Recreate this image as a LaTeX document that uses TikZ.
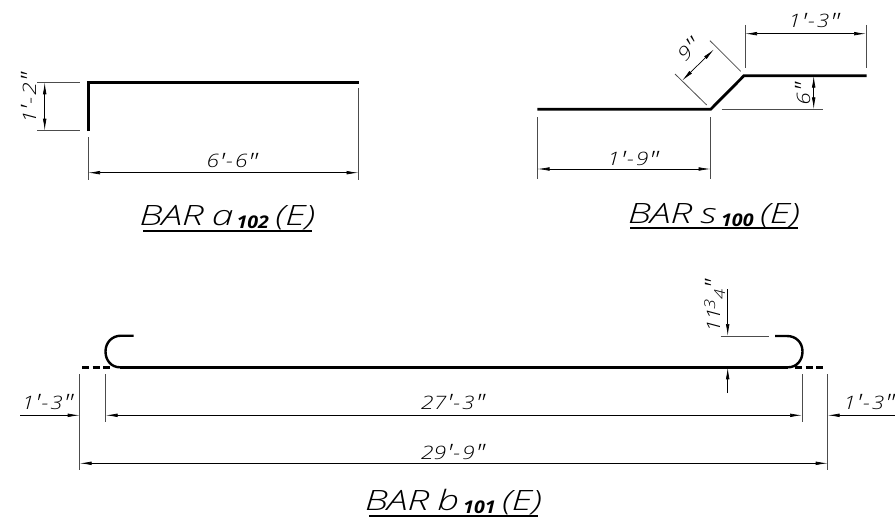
\documentclass[tikz,border=0pt]{standalone}
\usepackage{fontspec}
\setmainfont{Open Sans Light}[ItalicFont={Open Sans Light Italic}]
\newfontfamily\dimf{Open Sans Light Italic}[FakeStretch=1.24]
\newfontfamily\titf{Open Sans Light Italic}[FakeStretch=1.4]
\newfontfamily\subf{Open Sans Bold Italic}[FakeStretch=1.12]
\usetikzlibrary{arrows.meta}
\tikzset{
 x=1pt,y=-1pt,
 bar/.style={line width=2.8pt,line join=miter,line cap=butt},
 hook/.style={line width=2.4pt},
 stub/.style={line width=2.4pt,dash pattern=on 7pt off 3.5pt},
 ext/.style={line width=0.8pt,draw=black!70},
 dimline/.style={line width=0.7pt,draw=black},
 tipa/.style={-{Latex[length=12pt,width=3.6pt]}},
 tipb/.style={{Latex[length=12pt,width=3.6pt]}-{Latex[length=12pt,width=3.6pt]}},
 dimtext/.style={font=\fontsize{18.5}{18.5}\selectfont\dimf,inner sep=0pt},
 title/.style={font=\fontsize{28}{28}\selectfont\titf,inner sep=0pt,anchor=base},
 ul/.style={line width=1.9pt}
}
\newcommand{\prm}{{\fontsize{24}{24}\selectfont\raisebox{-2.5pt}{\char"2032}}}
\newcommand{\dpr}{\prm\kern-1.5pt\prm}
\newcommand{\ft}[2]{#1\prm\kern1pt-\kern2pt#2\dpr}
\newcommand{\inch}[1]{#1\dpr}
\newcommand{\subn}[1]{\raisebox{-3pt}{\fontsize{17.5}{17.5}\selectfont\subf #1}}
\begin{document}
\begin{tikzpicture}
\useasboundingbox (0,0) rectangle (895,519);
% Bar a
\coordinate (a1) at (88.3,131);
\coordinate (a2) at (88.3,82.3);
\coordinate (a3) at (359,82.3);
\draw[bar] (a1) -- (a2) -- (a3);
\coordinate (aL1) at (37,82.3); \coordinate (aL2) at (80,82.3);
\coordinate (aL3) at (37,130.7); \coordinate (aL4) at (80,130.7);
\draw[ext] (aL1) -- (aL2); \draw[ext] (aL3) -- (aL4);
\coordinate (aV1) at (44.7,82.3); \coordinate (aV2) at (44.7,130.7);
\draw[dimline,tipb] (aV1) -- (aV2);
\node[dimtext,rotate=90] (a12) at (30,98) {\ft{1}{2}};
\coordinate (aE1) at (88,137); \coordinate (aE2) at (88,180);
\coordinate (aE3) at (358.5,88); \coordinate (aE4) at (358.5,180);
\draw[ext] (aE1) -- (aE2); \draw[ext] (aE3) -- (aE4);
\coordinate (aH1) at (88,172.7); \coordinate (aH2) at (358.5,172.7);
\draw[dimline,tipb] (aH1) -- (aH2);
\node[dimtext] (a66) at (232,161.5) {\ft{6}{6}};
\node[title] (ta) at (227.5,225) {BAR\kern8pt a\kern3pt\subn{102}\kern6pt(E)};
\coordinate (taL) at (143,231); \coordinate (taR) at (312,231);
\draw[ul] (taL) -- (taR);
% Bar s
\coordinate (s1) at (537.3,109.3);
\coordinate (s2) at (710.7,109.3);
\coordinate (s3) at (744,75.7);
\coordinate (s4) at (866.7,75.7);
\draw[bar] (s1) -- (s2) -- (s3) -- (s4);
\coordinate (sA1) at (537.5,117); \coordinate (sA2) at (537.5,179);
\coordinate (sB1) at (710.5,117); \coordinate (sB2) at (710.5,179);
\draw[ext] (sA1) -- (sA2); \draw[ext] (sB1) -- (sB2);
\coordinate (sH1) at (537.5,169); \coordinate (sH2) at (710.5,169);
\draw[dimline,tipb] (sH1) -- (sH2);
\node[dimtext] (s19) at (633,159.5) {\ft{1}{9}};
\coordinate (sC1) at (745,25); \coordinate (sC2) at (745,68);
\coordinate (sD1) at (866,25); \coordinate (sD2) at (866,68);
\draw[ext] (sC1) -- (sC2); \draw[ext] (sD1) -- (sD2);
\coordinate (sT1) at (745,33.7); \coordinate (sT2) at (866,33.7);
\draw[dimline,tipb] (sT1) -- (sT2);
\node[dimtext] (s13) at (814,21.5) {\ft{1}{3}};
\coordinate (sF1) at (721.7,109.3); \coordinate (sF2) at (822.7,109.3);
\draw[ext] (sF1) -- (sF2);
\coordinate (sV1) at (813.7,75.7); \coordinate (sV2) at (813.7,109.3);
\draw[dimline,tipb] (sV1) -- (sV2);
\node[dimtext,rotate=90] (s6) at (804,94) {\inch{6}};
\coordinate (sG1) at (710,40.7); \coordinate (sG2) at (740.7,71.3);
\coordinate (sI1) at (675,74); \coordinate (sI2) at (706.7,105);
\draw[ext] (sG1) -- (sG2); \draw[ext] (sI1) -- (sI2);
\coordinate (sJ1) at (714,49.3); \coordinate (sJ2) at (682,80.7);
\draw[dimline,tipb] (sJ1) -- (sJ2);
\node[dimtext,rotate=45] (s9) at (689,50) {\inch{9}};
\node[title] (ts) at (714,223) {BAR\kern8pt s\kern5pt\subn{100}\kern6pt(E)};
\coordinate (tsL) at (630,228); \coordinate (tsR) at (798,228);
\draw[ul] (tsL) -- (tsR);
% Bar b
\coordinate (b1) at (120,367.3);
\coordinate (b2) at (788,367.3);
\draw[bar] (b1) -- (b2);
\coordinate (hL0) at (133.5,335.7); \coordinate (hL1) at (121,335.7);
\coordinate (hLm) at (105.5,351.5);
\draw[hook] (hL0) -- (hL1) .. controls (112,335.7) and (105.5,342.5) .. (hLm)
   .. controls (105.5,360) and (111,367.3) .. (b1);
\coordinate (hR0) at (775,336); \coordinate (hR1) at (787,336);
\coordinate (hRm) at (802.5,351.5);
\draw[hook] (hR0) -- (hR1) .. controls (796,336) and (802.5,342.5) .. (hRm)
   .. controls (802.5,360) and (797,367.3) .. (b2);
\coordinate (dL1) at (82,367.3); \coordinate (dL2) at (113,367.3);
\coordinate (dR1) at (795,367.3); \coordinate (dR2) at (826,367.3);
\draw[stub] (dL1) -- (dL2); \draw[stub] (dR1) -- (dR2);
\coordinate (eA1) at (79.7,374); \coordinate (eA2) at (79.7,470);
\coordinate (eB1) at (105.7,374); \coordinate (eB2) at (105.7,421.7);
\coordinate (eC1) at (802,374); \coordinate (eC2) at (802,421.7);
\coordinate (eD1) at (827.7,374); \coordinate (eD2) at (827.7,470);
\draw[ext] (eA1) -- (eA2); \draw[ext] (eB1) -- (eB2);
\draw[ext] (eC1) -- (eC2); \draw[ext] (eD1) -- (eD2);
\coordinate (d27a) at (105.7,415.3); \coordinate (d27b) at (802,415.3);
\draw[dimline,tipb] (d27a) -- (d27b);
\coordinate (d29a) at (79.7,463.3); \coordinate (d29b) at (827.7,463.3);
\draw[dimline,tipb] (d29a) -- (d29b);
\coordinate (oL0) at (20,415.3); \coordinate (oL1) at (79.7,415.3);
\coordinate (oR0) at (895,415.3); \coordinate (oR1) at (827.7,415.3);
\draw[dimline,tipa] (oL0) -- (oL1);
\draw[dimline,tipa] (oR0) -- (oR1);
\node[dimtext] (bL) at (47.5,403) {\ft{1}{3}};
\node[dimtext] (bR) at (869,403) {\ft{1}{3}};
\node[dimtext] (b27) at (453,403) {\ft{27}{3}};
\node[dimtext] (b29) at (453,453) {\ft{29}{9}};
\coordinate (hE1) at (720.7,336); \coordinate (hE2) at (769.3,336);
\draw[ext] (hE1) -- (hE2);
\coordinate (hU0) at (727.7,289); \coordinate (hU1) at (727.7,336);
\coordinate (hD0) at (727.7,393); \coordinate (hD1) at (727.7,367.3);
\draw[dimline,tipa] (hU0) -- (hU1);
\draw[dimline,tipa] (hD0) -- (hD1);
\node[dimtext,rotate=90,anchor=base] (b11) at (720,306) {1\kern-1pt 1\kern-1pt{\fontsize{15}{15}\selectfont\raisebox{5pt}{3}\kern-1pt\raisebox{-5pt}{4}}\dpr};
\node[title] (tb) at (453.5,510.7) {BAR\kern8pt b\kern4pt\subn{101}\kern6pt(E)};
\coordinate (tbL) at (369,515.7); \coordinate (tbR) at (538,515.7);
\draw[ul] (tbL) -- (tbR);
\end{tikzpicture}
\end{document}
